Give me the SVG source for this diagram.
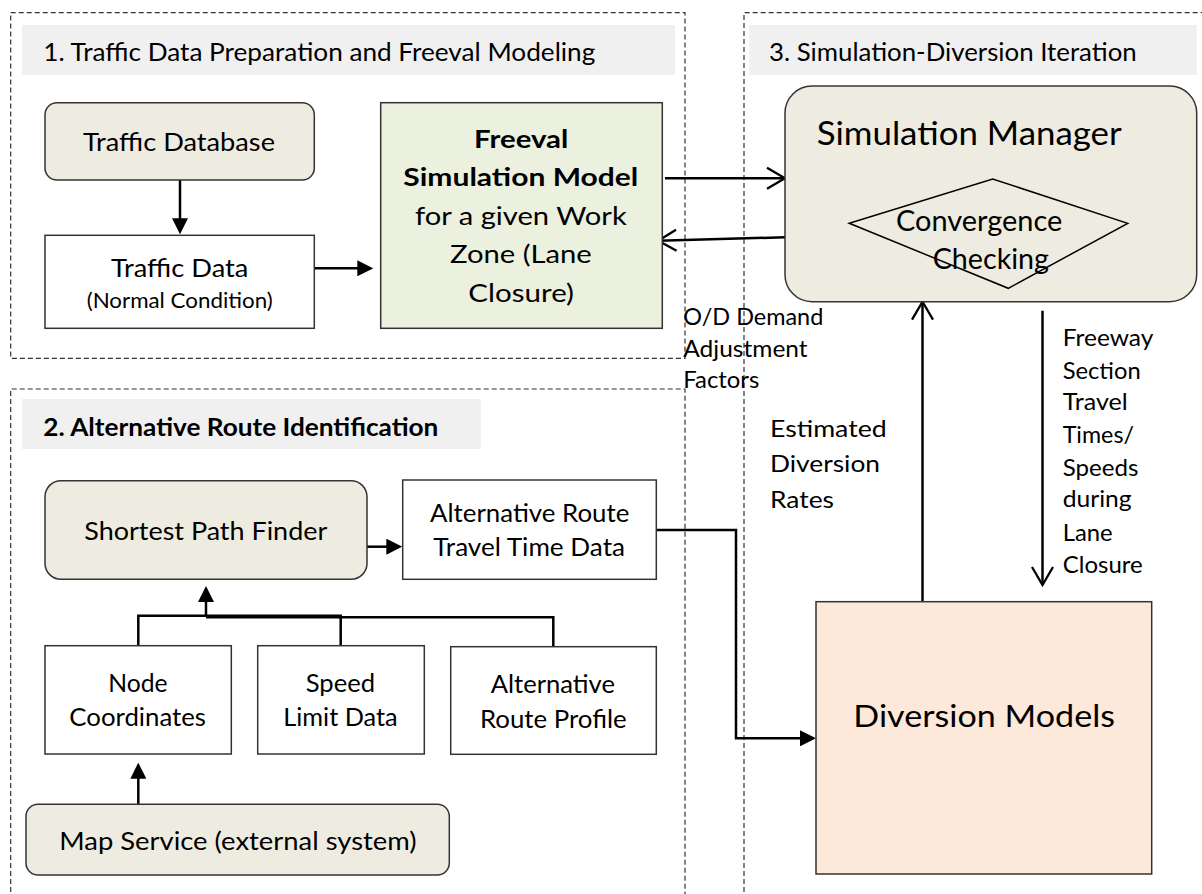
<svg xmlns="http://www.w3.org/2000/svg" width="1202" height="894" viewBox="0 0 1202 894">
<style>
text{font-family:Lato,"Open Sans","Liberation Sans",sans-serif;fill:#000}
.t{font-size:25px}
.sm{font-size:21.5px}
.lb{font-size:23px}
.b{font-weight:bold}
.sec{fill:none;stroke:#333;stroke-width:1.2;stroke-dasharray:5 3}
.band{fill:#f0f0f0}
.box{stroke:#333;stroke-width:1.5}
.tan{fill:#eeece1}
.wht{fill:#fff}
.grn{fill:#ebf1de}
.pch{fill:#fde9d9}
.c{fill:none;stroke:#000;stroke-width:2.5}
</style>
<defs>
<marker id="fa" markerUnits="userSpaceOnUse" markerWidth="16" markerHeight="16" viewBox="0 0 16 16" refX="8" refY="8" orient="auto"><path d="M0,0 L16,8 L0,16 z" fill="#000"/></marker>
<marker id="oa" markerUnits="userSpaceOnUse" markerWidth="24" markerHeight="26" viewBox="0 0 24 26" refX="20" refY="13" orient="auto" overflow="visible"><path d="M2,2.5 L20,13 L2,23.5" fill="none" stroke="#000" stroke-width="2.3"/></marker>
</defs>

<g id="sections">
<rect class="sec" x="10.7" y="12.7" width="674.3" height="345.6"/>
<path class="sec" d="M10.7,900 V389 H685 V900"/>
<path class="sec" d="M744,900 V12.7 H1210"/>
<rect class="band" x="22" y="25" width="653" height="50"/>
<rect class="band" x="22" y="399" width="458.7" height="50"/>
<rect class="band" x="749.3" y="25" width="447.4" height="50"/>
<text class="t" x="43.3" y="61" textLength="552" lengthAdjust="spacingAndGlyphs">1. Traffic Data Preparation and Freeval Modeling</text>
<text class="t b" x="43.3" y="436" textLength="395" lengthAdjust="spacingAndGlyphs">2. Alternative Route Identification</text>
<text class="t" x="769" y="61" textLength="367.7" lengthAdjust="spacingAndGlyphs">3. Simulation-Diversion Iteration</text>
</g>

<g id="connectors">
<path class="c" d="M180,180 V226.3" marker-end="url(#fa)"/>
<path class="c" d="M314.3,268.3 H365.3" marker-end="url(#fa)"/>
<path class="c" d="M665,178.3 H785" marker-end="url(#oa)"/>
<path class="c" d="M785,237.3 L658.3,240.7" marker-end="url(#oa)"/>
<path class="c" d="M922.5,601.7 V301.7" marker-end="url(#oa)"/>
<path class="c" d="M1042.5,310.7 V585" marker-end="url(#oa)"/>
<path class="c" d="M367,546.7 H394.3" marker-end="url(#fa)"/>
<path class="c" d="M656.3,530 H736 V738.3 H808" marker-end="url(#fa)"/>
<path class="c" d="M138.3,646 V615.7 H340.7 V646"/>
<path class="c" d="M553.3,647 V617.3 H206"/>
<path class="c" d="M206,617 V594" marker-end="url(#fa)"/>
<path class="c" d="M138.3,804.3 V770.7" marker-end="url(#fa)"/>
</g>

<g id="traffic-database">
<rect class="box tan" x="45" y="102.7" width="269.3" height="77.3" rx="12"/>
<text class="t" x="83" y="150.7" textLength="192" lengthAdjust="spacingAndGlyphs">Traffic Database</text>
</g>
<g id="traffic-data">
<rect class="box wht" x="45" y="235.3" width="269.3" height="93"/>
<text class="t" x="111" y="276.7" textLength="137.3" lengthAdjust="spacingAndGlyphs">Traffic Data</text>
<text class="sm" x="86.7" y="308.3" textLength="186" lengthAdjust="spacingAndGlyphs">(Normal Condition)</text>
</g>
<g id="freeval">
<rect class="box grn" x="380.7" y="102.7" width="281.6" height="225.6"/>
<text class="t b" x="474" y="147.7" textLength="94.3" lengthAdjust="spacingAndGlyphs">Freeval</text>
<text class="t b" x="403.3" y="185.7" textLength="235" lengthAdjust="spacingAndGlyphs">Simulation Model</text>
<text class="t" x="415" y="225" textLength="211.7" lengthAdjust="spacingAndGlyphs">for a given Work</text>
<text class="t" x="450" y="263.3" textLength="141.7" lengthAdjust="spacingAndGlyphs">Zone (Lane</text>
<text class="t" x="468.3" y="302.3" textLength="105.7" lengthAdjust="spacingAndGlyphs">Closure)</text>
</g>
<g id="simulation-manager">
<rect class="box tan" x="785" y="86" width="411.7" height="215.7" rx="27"/>
<text style="font-size:32.5px" x="816.7" y="145" textLength="305" lengthAdjust="spacingAndGlyphs">Simulation Manager</text>
</g>
<g id="convergence-checking">
<polygon points="849.3,223.3 992.7,179 1127.7,223.3 1008.3,288.3" fill="none" stroke="#000" stroke-width="1.5"/>
<text style="font-size:29px" x="896" y="230.7" textLength="166.3" lengthAdjust="spacingAndGlyphs">Convergence</text>
<text style="font-size:29px" x="932.7" y="269.3" textLength="116.3" lengthAdjust="spacingAndGlyphs">Checking</text>
</g>
<g id="label-od">
<text class="lb" x="683.3" y="325" textLength="140" lengthAdjust="spacingAndGlyphs">O/D Demand</text>
<text class="lb" x="683.3" y="356.7" textLength="124.3" lengthAdjust="spacingAndGlyphs">Adjustment</text>
<text class="lb" x="683.3" y="388.3" textLength="76" lengthAdjust="spacingAndGlyphs">Factors</text>
</g>
<g id="label-estimated">
<text class="lb" x="770" y="436.7" textLength="116.7" lengthAdjust="spacingAndGlyphs">Estimated</text>
<text class="lb" x="770" y="471.7" textLength="110" lengthAdjust="spacingAndGlyphs">Diversion</text>
<text class="lb" x="770" y="508.3" textLength="64" lengthAdjust="spacingAndGlyphs">Rates</text>
</g>
<g id="label-freeway">
<text class="lb" x="1062.7" y="345.7" textLength="90.7" lengthAdjust="spacingAndGlyphs">Freeway</text>
<text class="lb" x="1062.7" y="379" textLength="78" lengthAdjust="spacingAndGlyphs">Section</text>
<text class="lb" x="1062.7" y="410" textLength="65" lengthAdjust="spacingAndGlyphs">Travel</text>
<text class="lb" x="1062.7" y="443.3" textLength="71.3" lengthAdjust="spacingAndGlyphs">Times/</text>
<text class="lb" x="1062.7" y="475.7" textLength="75.7" lengthAdjust="spacingAndGlyphs">Speeds</text>
<text class="lb" x="1062.7" y="507.3" textLength="69" lengthAdjust="spacingAndGlyphs">during</text>
<text class="lb" x="1062.7" y="540.7" textLength="50" lengthAdjust="spacingAndGlyphs">Lane</text>
<text class="lb" x="1062.7" y="573.3" textLength="80" lengthAdjust="spacingAndGlyphs">Closure</text>
</g>
<g id="shortest-path-finder">
<rect class="box tan" x="45" y="480.7" width="322" height="98.6" rx="16"/>
<text class="t" x="84.3" y="540" textLength="243" lengthAdjust="spacingAndGlyphs">Shortest Path Finder</text>
</g>
<g id="alt-route-travel-time">
<rect class="box wht" x="402.7" y="480" width="253.6" height="99.3"/>
<text class="t" x="430" y="521.7" textLength="199.3" lengthAdjust="spacingAndGlyphs">Alternative Route</text>
<text class="t" x="433.3" y="555.7" textLength="191.7" lengthAdjust="spacingAndGlyphs">Travel Time Data</text>
</g>
<g id="node-coordinates">
<rect class="box wht" x="45" y="645.7" width="186.3" height="108.3"/>
<text class="t" x="108.3" y="691.7" textLength="59.3" lengthAdjust="spacingAndGlyphs">Node</text>
<text class="t" x="69.3" y="726" textLength="136.7" lengthAdjust="spacingAndGlyphs">Coordinates</text>
</g>
<g id="speed-limit-data">
<rect class="box wht" x="257.7" y="645.7" width="166.6" height="108.3"/>
<text class="t" x="305.7" y="691.7" textLength="69.3" lengthAdjust="spacingAndGlyphs">Speed</text>
<text class="t" x="283.3" y="726" textLength="114.3" lengthAdjust="spacingAndGlyphs">Limit Data</text>
</g>
<g id="alt-route-profile">
<rect class="box wht" x="450.7" y="646.7" width="205.6" height="107.6"/>
<text class="t" x="490.7" y="693.3" textLength="124.3" lengthAdjust="spacingAndGlyphs">Alternative</text>
<text class="t" x="480" y="727.7" textLength="146.7" lengthAdjust="spacingAndGlyphs">Route Profile</text>
</g>
<g id="map-service">
<rect class="box tan" x="26" y="804.3" width="423.3" height="70.7" rx="12"/>
<text class="t" x="59.3" y="850" textLength="357.3" lengthAdjust="spacingAndGlyphs">Map Service (external system)</text>
</g>
<g id="diversion-models">
<rect class="box pch" x="816" y="601.7" width="335.7" height="272.3"/>
<text style="font-size:30.5px" x="853.3" y="726.7" textLength="261.7" lengthAdjust="spacingAndGlyphs">Diversion Models</text>
</g>
</svg>
